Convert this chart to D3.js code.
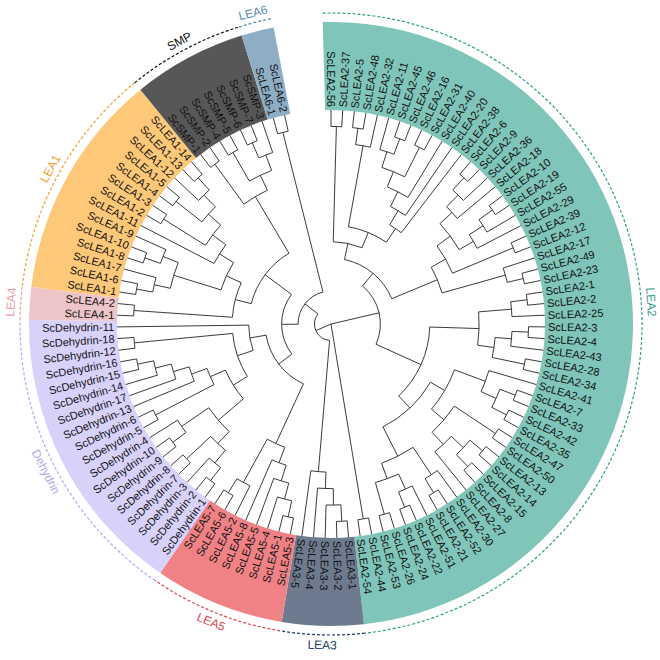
<!DOCTYPE html>
<html><head><meta charset="utf-8">
<script src="https://cdn.jsdelivr.net/npm/d3@7"></script>
<style>
body{margin:0;background:#fff}
svg text{font-family:"Liberation Sans",Arial,Helvetica,sans-serif}
</style></head>
<body><svg id="chart" width="660" height="660"></svg>
<script>
// ---- data ----
const groupNames = ["LEA2","LEA3","LEA5","Dehydrin","LEA4","LEA1","SMP","LEA6"];
const tipPrefix  = ["ScLEA2-","ScLEA3-","ScLEA5-","ScDehydrin-","ScLEA4-","ScLEA1-","ScSMP-","ScLEA6-"];
const bandFill   = ["#7fc5b9","#6e7b8f","#f08286","#d8d2fb","#edc5c8","#fdc877","#575757","#8eaec6"];
const markColor  = ["#2e9e8a","#23396a","#e0424f","#b2a9f0","#e9a0a6","#f0a02c","#111111","#5a8cb4"];

// topology (clockwise tip order), tips numbered within their group
const nwLEA2upper = "(((56,37),(((5,48),32),(((((11,(45,46)),(16,31)),40),20),38))),((((((6,9),36),18),(((10,19),55),29)),(39,12)),(17,(49,23))))";
const nwLEA2lower = "((((1,2),25),(((3,4),43),(28,34))),(((41,((7,33),(42,35))),((47,50),(((13,14),(15,8)),27))),((30,(52,21)),((51,(22,24)),(26,53)))))";
const nwLEA2tail  = "(44,54)";
const nwLEA3      = "((((1,2),3),4),5)";
const nwLEA5      = "(((((3,1),4),5),8),(2,(6,7)))";
const nwDehydrin  = "(((((((1,2),3),(7,8)),((9,10),4)),((5,6),(13,(17,(14,(15,16)))))),(12,18)),11)";
const nwLEA4      = "(1,2)";
const nwLEA1      = "((((1,6),7),((8,10),9)),(11,((2,3),((4,5),(12,(13,14))))))";
const nwSMP       = "((1,2),((4,5),((6,7),3)))";
const nwLEA6      = "(1,2)";
const nwBackbone  = "((LEA2upper,LEA2lower),LEA2tail,(LEA3,(((LEA5,Dehydrin),((LEA4,LEA1),SMP)),LEA6)))";
const subtreeList  = ["LEA2upper","LEA2lower","LEA2tail","LEA3","LEA5","Dehydrin","LEA4","LEA1","SMP","LEA6"];
const subtreeNwk   = [nwLEA2upper,nwLEA2lower,nwLEA2tail,nwLEA3,nwLEA5,nwDehydrin,nwLEA4,nwLEA1,nwSMP,nwLEA6];
const subtreeGroup = ["LEA2","LEA2","LEA2","LEA3","LEA5","Dehydrin","LEA4","LEA1","SMP","LEA6"];

// ---- parsing ----
function parseNewick(s){
  let i=0;
  function node(){
    if(s[i]==="("){
      i++; const children=[];
      children.push(node());
      while(s[i]===","){ i++; children.push(node()); }
      if(s[i]!==")") throw new Error("bad newick at "+i);
      i++; return {children};
    }
    let name=""; while(i<s.length && !",()".includes(s[i])) name+=s[i++];
    return {name:name.trim()};
  }
  return node();
}
function tagGroup(n, grp){
  if(n.children) n.children.forEach(c=>tagGroup(c,grp));
  else { n.group=grp; n.label=tipPrefix[groupNames.indexOf(grp)]+n.name; }
  return n;
}
function expand(n){
  if(n.children){ n.children = n.children.map(expand); return n; }
  const k = subtreeList.indexOf(n.name);
  return tagGroup(parseNewick(subtreeNwk[k]), subtreeGroup[k]);
}
const treeData = expand(parseNewick(nwBackbone));

// ---- layout ----
const cx=331, cy=324, R=214, bandIn=214, bandOut=302, dashR=311, grpR=321, labR=217;
const step = 360/115, rad = Math.PI/180;
const root = d3.hierarchy(treeData);
d3.cluster().size([112*step, R]).separation(()=>1)(root);
const ang = n => n.x - step/2;
const pt = (a,r) => [r*Math.sin(a*rad), -r*Math.cos(a*rad)];
const leaves = root.leaves();
leaves.forEach((l,i)=>l.idx=i);

const svg = d3.select("#chart");
const g = svg.append("g").attr("transform",`translate(${cx},${cy})`);

// bands
const spans = groupNames.map(gn=>{
  const idx = leaves.filter(l=>l.data.group===gn).map(l=>l.idx);
  return {g:gn, i0:d3.min(idx), i1:d3.max(idx)};
});
const arcGen = d3.arc();
g.selectAll("path.band").data(spans).join("path").attr("class","band")
  .attr("d",d=>arcGen({innerRadius:bandIn,outerRadius:bandOut,
        startAngle:(d.i0-0.5)*step*rad,endAngle:(d.i1+0.5)*step*rad}))
  .attr("fill",(d,i)=>bandFill[i]);

// tree
const p = d3.path();
root.descendants().forEach(n=>{
  const a = ang(n);
  if(n.parent){
    const [x0,y0]=pt(a,n.parent.y), [x1,y1]=pt(a,n.y);
    p.moveTo(x0,y0); p.lineTo(x1,y1);
  }
  if(n.children && n.y>0){
    const a0=ang(n.children[0]), a1=ang(n.children[n.children.length-1]);
    const [sx,sy]=pt(a0,n.y);
    p.moveTo(sx,sy); p.arc(0,0,n.y,(a0-90)*rad,(a1-90)*rad,false);
  }
});
g.append("path").attr("d",p.toString()).attr("fill","none")
  .attr("stroke","#262626").attr("stroke-width",0.9);

// tip labels
g.selectAll("text.tip").data(leaves).join("text").attr("class","tip")
  .each(function(d){
    const a=ang(d), flip = a>189 || a<1;
    d3.select(this)
      .attr("transform",`rotate(${a-90}) translate(${labR},0)`+(flip?" rotate(180)":""))
      .attr("text-anchor",flip?"end":"start");
  })
  .attr("dy","0.35em").attr("font-size","11px").attr("fill","#111")
  .text(d=>d.data.label);

// dashed group arcs and group labels
spans.forEach((s,i)=>{
  const a0=(s.i0-0.5)*step, a1=(s.i1+0.5)*step;
  const dp=d3.path(); const [sx,sy]=pt(a0,dashR);
  dp.moveTo(sx,sy); dp.arc(0,0,dashR,(a0-90)*rad,(a1-90)*rad,false);
  g.append("path").attr("d",dp.toString()).attr("fill","none")
    .attr("stroke",markColor[i]).attr("stroke-width",1.2).attr("stroke-dasharray","3,2");
  const mid=(s.i0+s.i1)/2*step, [tx,ty]=pt(mid,grpR);
  const rot = (mid>90 && mid<270) ? mid-180 : mid;
  g.append("text").attr("transform",`translate(${tx},${ty}) rotate(${rot})`)
    .attr("text-anchor","middle").attr("dy","0.35em").attr("font-size","12px")
    .attr("fill",markColor[i]).text(s.g);
});
</script></body></html>
